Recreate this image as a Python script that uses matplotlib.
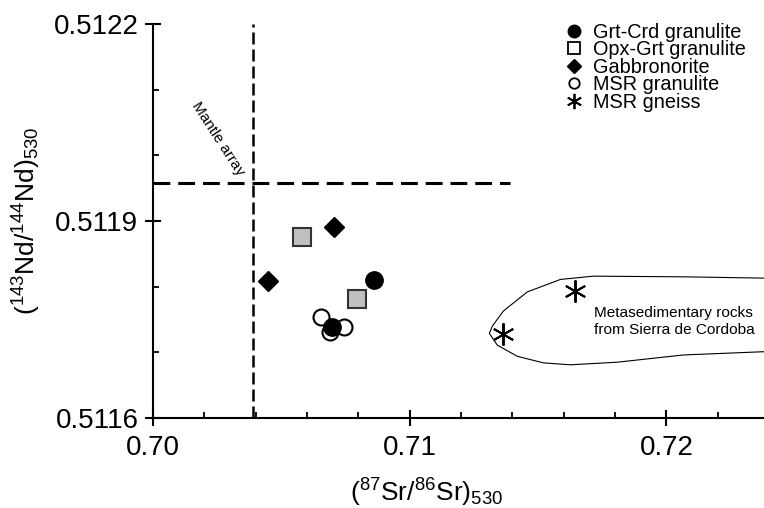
import matplotlib
matplotlib.use('Agg')
import matplotlib.pyplot as plt
from matplotlib.lines import Line2D
from matplotlib.ticker import MultipleLocator

plt.rcParams['font.family'] = ['Liberation Sans', 'DejaVu Sans']
plt.rcParams['mathtext.fontset'] = 'custom'
plt.rcParams['mathtext.rm'] = 'Liberation Sans'
plt.rcParams['mathtext.it'] = 'Liberation Sans:italic'
plt.rcParams['mathtext.bf'] = 'Liberation Sans:bold'

# sample data (87Sr/86Sr)530, (143Nd/144Nd)530
grt_crd_sr = [0.70862, 0.70698]
grt_crd_nd = [0.511810, 0.511738]
opx_grt_sr = [0.70581, 0.70795]
opx_grt_nd = [0.511876, 0.511781]
gabbro_sr = [0.70706, 0.70448]
gabbro_nd = [0.511891, 0.511809]
msr_gran_sr = [0.70655, 0.70745, 0.70690]
msr_gran_nd = [0.511754, 0.511739, 0.511731]
msr_gneiss_sr = [0.71645, 0.71365]
msr_gneiss_nd = [0.511793, 0.511728]

# reference lines
mantle_sr = 0.7039
mantle_nd = 0.511958
mantle_nd_sr_end = 0.71392

# outline of the Sierra de Cordoba metasediment field
field_sr = [0.72382, 0.72066, 0.71715, 0.71587, 0.71458, 0.71365, 0.71322,
            0.71310, 0.71341, 0.71419, 0.71520, 0.71626, 0.71809, 0.72066,
            0.72382]
field_nd = [0.511813, 0.511815, 0.511816, 0.511811, 0.511792, 0.511763,
            0.511740, 0.511729, 0.511711, 0.511694, 0.511684, 0.511681,
            0.511685, 0.511696, 0.511701]

fig = plt.figure(figsize=(7.64, 5.08), dpi=100)
ax = fig.add_axes([153 / 764, 1 - 418 / 508, 611 / 764, 394 / 508])

ax.plot(field_sr, field_nd, color='black', lw=0.8)

# mantle array
ax.axvline(mantle_sr, color='black', lw=1.8, dashes=(4.8, 2.0))
ax.plot([0.70, mantle_nd_sr_end], [mantle_nd, mantle_nd], color='black',
        lw=2.2, dashes=(5.5, 2.6))

ax.plot(opx_grt_sr, opx_grt_nd, 's', ms=12.5, mfc='#c0c0c0', mec='#333333',
        mew=1.5, ls='none')
ax.plot(gabbro_sr, gabbro_nd, 'D', ms=10, color='black', ls='none')
ax.plot(msr_gran_sr, msr_gran_nd, 'o', ms=11.5, mfc='white', mec='black',
        mew=1.5, ls='none')
ax.plot(grt_crd_sr, grt_crd_nd, 'o', ms=12.5, color='black', ls='none')
ax.plot(msr_gneiss_sr, msr_gneiss_nd, marker=(6, 2, 0), ms=16, mew=1.4,
        color='black', ls='none')

ax.text(0.70255, 0.512025, 'Mantle array', rotation=-57, fontsize=11,
        ha='center', va='center', rotation_mode='anchor')
ax.text(0.71719, 0.511747, 'Metasedimentary rocks\nfrom Sierra de Cordoba',
        fontsize=11.1, ha='left', va='center', linespacing=1.2)

ax.set_xlim(0.70, 0.7238)
ax.set_ylim(0.5116, 0.5122)
ax.xaxis.set_major_locator(MultipleLocator(0.01))
ax.xaxis.set_minor_locator(MultipleLocator(0.002))
ax.yaxis.set_major_locator(MultipleLocator(0.0003))
ax.yaxis.set_minor_locator(MultipleLocator(0.0001))
ax.set_xticks([0.70, 0.71, 0.72])
ax.set_xticklabels(['0.70', '0.71', '0.72'])
ax.set_yticks([0.5116, 0.5119, 0.5122])
ax.set_yticklabels(['0.5116', '0.5119', '0.5122'])

for s in ['top', 'right']:
    ax.spines[s].set_visible(False)
for s in ['left', 'bottom']:
    ax.spines[s].set_linewidth(1.5)
ax.tick_params(which='major', direction='inout', length=11, width=1.5,
               labelsize=20)
ax.tick_params(axis='x', which='major', pad=7)
ax.tick_params(axis='y', which='major', pad=5)
ax.tick_params(which='minor', direction='in', length=4.5, width=1.3)

ax.set_xlabel(r'($^{87}$Sr/$^{86}$Sr)$_{530}$', fontsize=19)
ax.set_ylabel(r'($^{143}$Nd/$^{144}$Nd)$_{530}$', fontsize=19)
ax.xaxis.set_label_coords(0.448, -0.15)
ax.yaxis.set_label_coords(-0.18, 0.5)

handles = [
    Line2D([], [], marker='o', ls='none', color='black', ms=9),
    Line2D([], [], marker='s', ls='none', mfc='white', mec='black', ms=8, mew=1.3),
    Line2D([], [], marker='D', ls='none', color='black', ms=7),
    Line2D([], [], marker='o', ls='none', mfc='white', mec='black', ms=7.5, mew=1.3),
    Line2D([], [], marker=(6, 2, 0), ls='none', color='black', ms=11, mew=1.3),
]
labels = ['Grt-Crd granulite', 'Opx-Grt granulite', 'Gabbronorite',
          'MSR granulite', 'MSR gneiss']
fig.legend(handles, labels, loc='upper left',
           bbox_to_anchor=(566 / 764, 1 - 23 / 508), frameon=False,
           fontsize=14.3, handlelength=0.85, handletextpad=0.5,
           labelspacing=-0.08, borderpad=0, borderaxespad=0)

fig.savefig('out.png', dpi=100)
